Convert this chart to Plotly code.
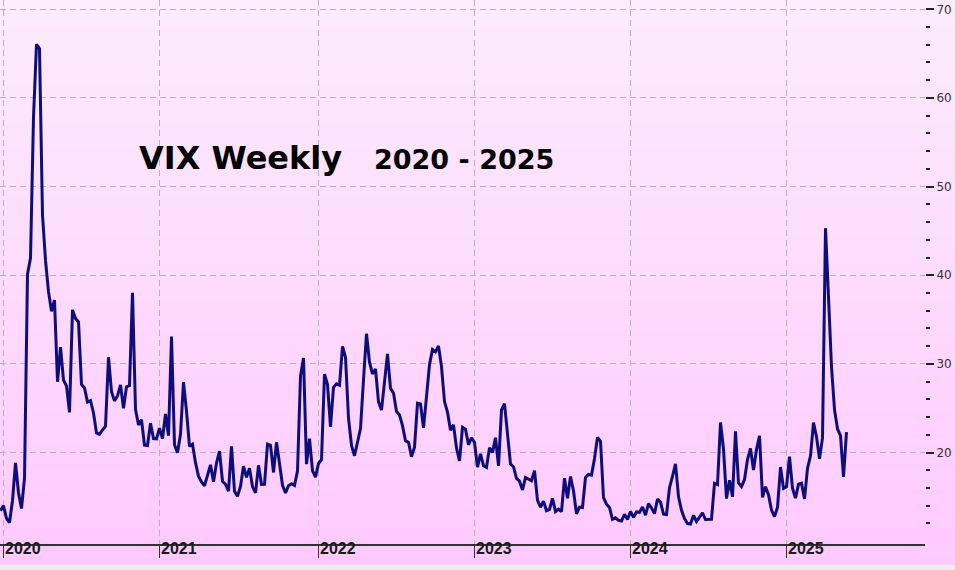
import pandas as pd
import plotly.graph_objects as go

# Weekly VIX closes (Friday), from the week of 27 Dec 2019 to 23 May 2025
vix_2019 = [13.43]
vix_2020 = [14.02, 12.56, 12.10, 14.56, 18.84, 15.47, 13.68, 17.08, 40.11, 41.94,
            57.83, 66.04, 65.54, 46.80, 41.67, 38.15, 35.93, 37.19, 27.98, 31.89,
            28.16, 27.51, 24.52, 36.09, 35.12, 34.73, 27.68, 27.29, 25.68, 25.84,
            24.46, 22.21, 22.05, 22.54, 22.96, 30.75, 26.87, 25.83, 26.38, 27.63,
            25.00, 27.41, 27.55, 38.02, 24.86, 23.10, 23.70, 20.84, 20.79, 23.31,
            21.57, 21.53, 22.75]
vix_2021 = [21.56, 24.34, 21.91, 33.09, 20.87, 19.97, 22.05, 27.95, 24.66, 20.69,
            20.95, 18.86, 17.33, 16.69, 16.25, 17.33, 18.61, 16.69, 18.81, 20.15,
            16.76, 16.42, 15.65, 20.70, 15.62, 15.07, 16.18, 18.45, 17.20, 18.24,
            16.15, 15.45, 18.56, 16.39, 16.41, 20.95, 20.81, 17.75, 21.15, 18.77,
            16.30, 15.43, 16.26, 16.48, 16.29, 17.91, 28.62, 30.67, 18.69, 21.57,
            17.96, 17.22]
vix_2022 = [18.76, 19.19, 28.85, 27.66, 22.90, 27.36, 27.75, 27.59, 31.98, 30.75,
            23.87, 20.81, 19.63, 21.16, 22.70, 28.21, 33.40, 30.19, 28.87, 29.43,
            25.72, 24.79, 27.75, 31.13, 27.23, 26.70, 24.64, 24.23, 23.03, 21.33,
            21.15, 19.53, 20.60, 25.56, 25.47, 22.79, 26.30, 29.92, 31.62, 31.36,
            32.02, 29.69, 25.75, 24.55, 22.52, 23.12, 20.50, 19.06, 22.83, 22.62,
            20.87, 21.67]
vix_2023 = [21.13, 18.35, 19.85, 18.51, 18.33, 20.53, 20.02, 21.67, 18.49, 24.80,
            25.51, 21.74, 18.70, 18.40, 17.07, 16.77, 15.78, 17.19, 17.03, 16.81,
            17.95, 14.60, 13.83, 14.50, 13.44, 13.59, 14.83, 13.34, 13.60, 13.33,
            17.10, 14.84, 17.30, 15.68, 13.09, 13.84, 13.79, 17.20, 17.52, 17.45,
            19.32, 21.71, 21.27, 14.91, 14.17, 13.80, 12.46, 12.63, 12.35, 12.28,
            13.03, 12.45]
vix_2024 = [13.35, 12.70, 13.30, 13.26, 13.85, 12.93, 14.24, 13.75, 13.11, 14.74,
            14.41, 13.06, 13.01, 16.03, 17.31, 18.71, 15.03, 13.49, 12.55, 11.99,
            11.93, 12.92, 12.22, 12.66, 13.20, 12.44, 12.48, 12.46, 16.52, 16.39,
            23.39, 20.37, 14.80, 16.86, 15.00, 22.38, 16.56, 16.15, 16.96, 19.21,
            20.46, 18.03, 20.33, 21.88, 14.94, 16.14, 15.24, 13.51, 12.77, 13.81,
            18.36, 15.95]
vix_2025 = [16.13, 19.54, 15.97, 14.85, 16.43, 16.54, 14.77, 18.21, 19.63, 23.37,
            21.77, 19.28, 21.65, 45.31, 37.56, 29.65, 24.84, 22.68, 21.90, 17.24,
            22.29]

vix = vix_2019 + vix_2020 + vix_2021 + vix_2022 + vix_2023 + vix_2024 + vix_2025
dates = pd.date_range("2019-12-27", periods=len(vix), freq="W-FRI")

year_labels = ["2020", "2021", "2022", "2023", "2024", "2025"]
s = pd.Series(dates, index=dates)
year_ticks = [s[s.dt.year == int(y)].iloc[0] for y in year_labels]

y_major = [20, 30, 40, 50, 60, 70]
y_minor = [v for v in range(12, 70, 2) if v % 10 != 0]

title_main = "VIX Weekly"
title_years = "2020 - 2025"

fig = go.Figure()
fig.add_trace(go.Scatter(
    x=dates, y=vix, mode="lines",
    line=dict(color="#0e0e7a", width=3),
    hoverinfo="skip", showlegend=False,
))

# vertical pink gradient background (styling only)
W, H, PB = 955, 570, 544
top = (252, 236, 252)
bot = (255, 201, 255)
n = 60
shapes = []
bottom_px = 565
for i in range(n):
    p0 = bottom_px * i / n
    p1 = bottom_px * (i + 1) / n
    t = (p0 + p1) / 2 / bottom_px
    c = tuple(round(top[k] + (bot[k] - top[k]) * t) for k in range(3))
    shapes.append(dict(
        type="rect", xref="paper", yref="paper", layer="below",
        x0=-0.01, x1=1.05, y0=(PB - p1) / PB, y1=(PB - p0) / PB + (0.01 if i == 0 else 0.0005),
        fillcolor="rgb(%d,%d,%d)" % c, line=dict(width=0),
    ))

fig.update_layout(
    width=W, height=H,
    margin=dict(l=0, r=30, t=0, b=H - PB),
    paper_bgcolor="#ececec",
    plot_bgcolor="rgba(0,0,0,0)",
    shapes=shapes,
    showlegend=False,
    hovermode=False,
    font=dict(family="DejaVu Sans", color="#222"),
    annotations=[
        dict(text=title_main, xref="paper", yref="paper", x=137 / 925, y=(PB - 158) / PB,
             xanchor="left", yanchor="middle", showarrow=False,
             font=dict(family="DejaVu Sans", size=32, color="#000", weight="bold")),
        dict(text=title_years, xref="paper", yref="paper", x=372 / 925, y=(PB - 160) / PB,
             xanchor="left", yanchor="middle", showarrow=False,
             font=dict(family="DejaVu Sans", size=27, color="#000", weight="bold")),
    ],
)

fig.update_xaxes(
    type="date",
    range=["2019-12-25 20:00", "2025-11-22 04:00"],
    tickvals=year_ticks, ticktext=year_labels,
    ticks="outside", ticklen=12, tickwidth=1.5, tickcolor="#333",
    ticklabelposition="outside right", ticklabelstandoff=-11,
    tickfont=dict(family="Liberation Sans", size=16, color="#1a1a1a", weight="bold"),
    showline=True, linecolor="#333", linewidth=1.5,
    showgrid=True, gridcolor="#b9b0b9", griddash="6px,4px", gridwidth=1,
    zeroline=False, automargin=False, fixedrange=True,
)

fig.update_yaxes(
    side="right", range=[9.68, 71.05],
    tickvals=y_major, ticktext=[str(v) for v in y_major],
    ticks="outside", ticklen=8, tickwidth=2, tickcolor="#222",
    tickfont=dict(family="DejaVu Sans", size=12, color="#333"),
    minor=dict(tickvals=y_minor, ticks="outside", ticklen=4, tickwidth=2,
               tickcolor="#222", showgrid=False),
    showline=False,
    showgrid=True, gridcolor="#b9b0b9", griddash="6px,4px", gridwidth=1,
    zeroline=False, automargin=False, fixedrange=True,
)

fig.write_html("out.html", config={"displayModeBar": False, "staticPlot": True},
               post_script="document.body.style.margin='0';document.body.style.padding='0';")
